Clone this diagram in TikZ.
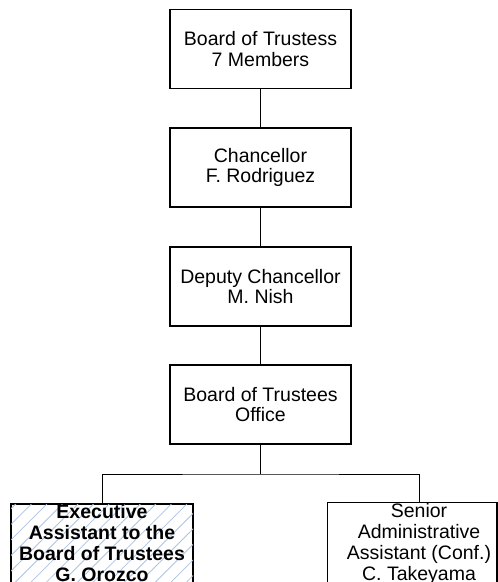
\documentclass[tikz,border=0pt]{standalone}
\usepackage{fontspec}
\setmainfont{Liberation Sans}
\usetikzlibrary{patterns.meta}
\definecolor{hatchblue}{rgb}{0.68,0.77,0.90}
\tikzset{
  orgbox/.style={draw=black, line width=1.3pt, rectangle, minimum width=181pt, minimum height=79pt,
    inner sep=0pt, align=center, font=\fontsize{19.5}{20.5}\selectfont},
  lowtext/.style={rectangle, minimum width=182pt, minimum height=79pt,
    inner sep=0pt, align=center, font=\fontsize{19.5}{21}\selectfont},
  link/.style={line width=0.9pt, draw=black}
}
\begin{document}
\begin{tikzpicture}[x=1pt,y=-1pt]
\useasboundingbox (0,0) rectangle (498,582);
\clip (0,0) rectangle (498,582);
\fill[white] (0,0) rectangle (498,582);
\node[orgbox] (bot) at (260.5,49) {Board of Trustess\\7 Members};
\node[orgbox] (chan) at (260.5,167.5) {Chancellor\\F. Rodriguez};
\node[orgbox] (dep) at (260.5,286.5) {Deputy Chancellor\\M. Nish};
\node[orgbox] (off) at (260.5,404.5) {Board of Trustees\\Office};
\node[lowtext, draw=black, line width=1.3pt, fill=white,
  postaction={pattern={Lines[angle=45,distance=11pt,line width=0.8pt]}, pattern color=hatchblue},
  font=\fontsize{19.5}{21}\selectfont\bfseries] (ea) at (102,543.5)
  {Executive\\Assistant to the\\Board of Trustees\\G. Orozco};
\node[lowtext] (sa) at (419,543.5) {Senior\\Administrative\\Assistant (Conf.)\\C. Takeyama};
\draw[line width=1.3pt] (sa.north west) rectangle (497,583);
\coordinate (bus) at (260.5,474);
\draw[link] (bot.south) -- (chan.north);
\draw[link] (chan.south) -- (dep.north);
\draw[link] (dep.south) -- (off.north);
\draw[link] (off.south) -- (bus);
\draw[link] (ea.north) |- (bus) -| (sa.north);
\end{tikzpicture}
\end{document}
